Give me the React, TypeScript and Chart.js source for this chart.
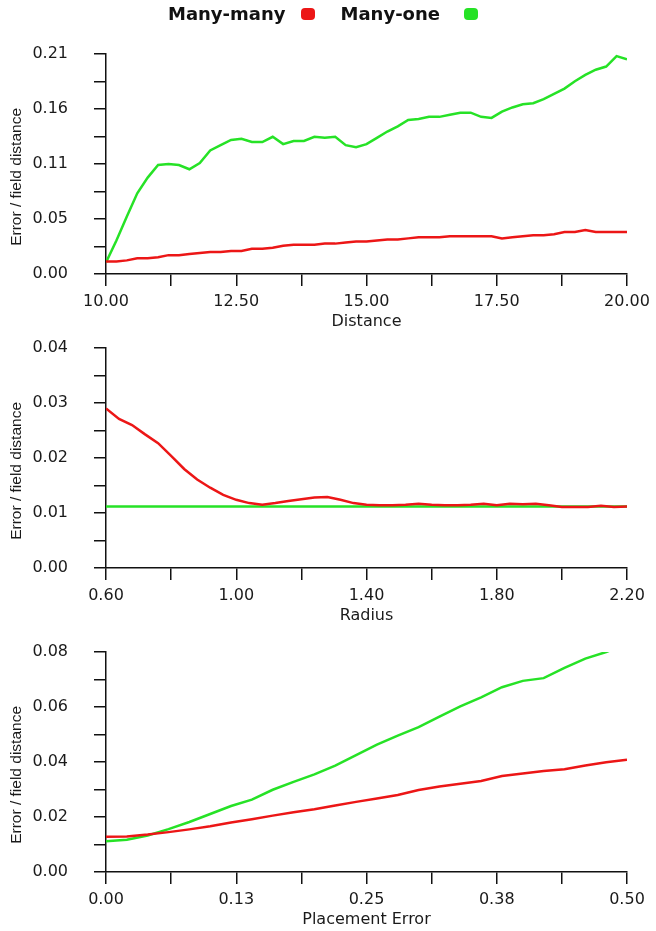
import React, { useEffect, useRef } from 'react';
import { Chart, registerables } from 'chart.js';

Chart.register(...registerables);

const RED = 'rgb(236, 22, 22)';
const GREEN = 'rgb(38, 226, 38)';
const SERIES_NAMES = ['Many-many', 'Many-one'];
const Y_TITLE = 'Error / field distance';

// ---- Panel 1: Distance ----
const distanceX = [10.0, 10.2, 10.4, 10.6, 10.8, 11.0, 11.2, 11.4, 11.6, 11.8, 12.0, 12.2, 12.4, 12.6, 12.8, 13.0, 13.2, 13.4, 13.6, 13.8, 14.0, 14.2, 14.4, 14.6, 14.8, 15.0, 15.2, 15.4, 15.6, 15.8, 16.0, 16.2, 16.4, 16.6, 16.8, 17.0, 17.2, 17.4, 17.6, 17.8, 18.0, 18.2, 18.4, 18.6, 18.8, 19.0, 19.2, 19.4, 19.6, 19.8, 20.0];
const distanceManyMany = [0.012, 0.012, 0.013, 0.015, 0.015, 0.016, 0.018, 0.018, 0.019, 0.020, 0.021, 0.021, 0.022, 0.022, 0.024, 0.024, 0.025, 0.027, 0.028, 0.028, 0.028, 0.029, 0.029, 0.030, 0.031, 0.031, 0.032, 0.033, 0.033, 0.034, 0.035, 0.035, 0.035, 0.036, 0.036, 0.036, 0.036, 0.036, 0.034, 0.035, 0.036, 0.037, 0.037, 0.038, 0.040, 0.040, 0.042, 0.040, 0.040, 0.040, 0.040];
const distanceManyOne = [0.011, 0.032, 0.055, 0.077, 0.092, 0.104, 0.105, 0.104, 0.100, 0.106, 0.118, 0.123, 0.128, 0.129, 0.126, 0.126, 0.131, 0.124, 0.127, 0.127, 0.131, 0.130, 0.131, 0.123, 0.121, 0.124, 0.130, 0.136, 0.141, 0.147, 0.148, 0.150, 0.150, 0.152, 0.154, 0.154, 0.150, 0.149, 0.155, 0.159, 0.162, 0.163, 0.167, 0.172, 0.177, 0.184, 0.190, 0.195, 0.198, 0.208, 0.205];
const distanceXTicks = [10, 11.25, 12.5, 13.75, 15, 16.25, 17.5, 18.75, 20];
const distanceXLabels = ['10.00', '', '12.50', '', '15.00', '', '17.50', '', '20.00'];
const distanceYTicks = [0, 0.02625, 0.0525, 0.07875, 0.105, 0.13125, 0.1575, 0.18375, 0.21];
const distanceYLabels = ['0.00', '', '0.05', '', '0.11', '', '0.16', '', '0.21'];

// ---- Panel 2: Radius ----
const radiusX = [0.60, 0.64, 0.68, 0.72, 0.76, 0.80, 0.84, 0.88, 0.92, 0.96, 1.00, 1.04, 1.08, 1.12, 1.16, 1.20, 1.24, 1.28, 1.32, 1.36, 1.40, 1.44, 1.48, 1.52, 1.56, 1.60, 1.64, 1.68, 1.72, 1.76, 1.80, 1.84, 1.88, 1.92, 1.96, 2.00, 2.04, 2.08, 2.12, 2.16, 2.20];
const radiusManyMany = [0.0290, 0.0271, 0.0260, 0.0243, 0.0227, 0.0204, 0.0180, 0.0161, 0.0146, 0.0133, 0.0124, 0.0118, 0.0115, 0.0118, 0.0122, 0.0125, 0.0128, 0.0129, 0.0124, 0.0118, 0.0115, 0.0114, 0.0114, 0.0115, 0.0117, 0.0115, 0.0114, 0.0114, 0.0115, 0.0117, 0.0114, 0.0117, 0.0116, 0.0117, 0.0114, 0.0111, 0.0111, 0.0111, 0.0113, 0.0111, 0.0112];
const radiusManyOne = [0.0112, 0.0112, 0.0112, 0.0112, 0.0112, 0.0112, 0.0112, 0.0112, 0.0112, 0.0112, 0.0112, 0.0112, 0.0112, 0.0112, 0.0112, 0.0112, 0.0112, 0.0112, 0.0112, 0.0112, 0.0112, 0.0112, 0.0112, 0.0112, 0.0112, 0.0112, 0.0112, 0.0112, 0.0112, 0.0112, 0.0112, 0.0112, 0.0112, 0.0112, 0.0112, 0.0112, 0.0112, 0.0112, 0.0112, 0.0112, 0.0112];
const radiusXTicks = [0.6, 0.8, 1.0, 1.2, 1.4, 1.6, 1.8, 2.0, 2.2];
const radiusXLabels = ['0.60', '', '1.00', '', '1.40', '', '1.80', '', '2.20'];
const radiusYTicks = [0, 0.005, 0.01, 0.015, 0.02, 0.025, 0.03, 0.035, 0.04];
const radiusYLabels = ['0.00', '', '0.01', '', '0.02', '', '0.03', '', '0.04'];

// ---- Panel 3: Placement Error ----
const placementX = [0.00, 0.02, 0.04, 0.06, 0.08, 0.10, 0.12, 0.14, 0.16, 0.18, 0.20, 0.22, 0.24, 0.26, 0.28, 0.30, 0.32, 0.34, 0.36, 0.38, 0.40, 0.42, 0.44, 0.46, 0.48, 0.50];
const placementManyMany = [0.0128, 0.0129, 0.0136, 0.0145, 0.0155, 0.0166, 0.0180, 0.0192, 0.0205, 0.0217, 0.0228, 0.0242, 0.0255, 0.0267, 0.0280, 0.0298, 0.0311, 0.0321, 0.0331, 0.0349, 0.0358, 0.0367, 0.0374, 0.0387, 0.0399, 0.0408];
const placementManyOne = [0.0112, 0.0117, 0.0133, 0.0156, 0.0182, 0.0211, 0.0240, 0.0263, 0.0299, 0.0328, 0.0355, 0.0387, 0.0425, 0.0463, 0.0496, 0.0527, 0.0565, 0.0602, 0.0635, 0.0672, 0.0695, 0.0705, 0.0742, 0.0776, 0.0800, 0.0830];
const placementXTicks = [0, 0.0625, 0.125, 0.1875, 0.25, 0.3125, 0.375, 0.4375, 0.5];
const placementXLabels = ['0.00', '', '0.13', '', '0.25', '', '0.38', '', '0.50'];
const placementYTicks = [0, 0.01, 0.02, 0.03, 0.04, 0.05, 0.06, 0.07, 0.08];
const placementYLabels = ['0.00', '', '0.02', '', '0.04', '', '0.06', '', '0.08'];

const CANVAS_W = 656;
const CANVAS_H = 340;

type PanelProps = {
  top: number;
  xs: number[];
  manyMany: number[];
  manyOne: number[];
  xTicks: number[];
  xLabels: string[];
  yTicks: number[];
  yLabels: string[];
  xTitle: string;
};

function Panel(props: PanelProps) {
  const ref = useRef<HTMLCanvasElement | null>(null);
  useEffect(() => {
    if (!ref.current) return;
    const p = props;
    const axisColor = '#111';
    const textColor = '#1a1a1a';
    const grid = {
      drawOnChartArea: false,
      drawTicks: true,
      tickLength: 12,
      color: axisColor,
      lineWidth: 1.5,
    };
    const border = { display: true, color: axisColor, width: 1.5 };
    const chart = new Chart(ref.current, {
      type: 'line',
      data: {
        datasets: [
          {
            label: SERIES_NAMES[0],
            data: p.xs.map((x, i) => ({ x, y: p.manyMany[i] })),
            borderColor: RED,
            backgroundColor: RED,
            borderWidth: 2.5,
            pointRadius: 0,
            tension: 0,
          },
          {
            label: SERIES_NAMES[1],
            data: p.xs.map((x, i) => ({ x, y: p.manyOne[i] })),
            borderColor: GREEN,
            backgroundColor: GREEN,
            borderWidth: 2.5,
            pointRadius: 0,
            tension: 0,
          },
        ],
      },
      options: {
        responsive: false,
        animation: false,
        events: [],
        layout: { padding: { top: 54, right: 29, left: 0, bottom: 0 } },
        plugins: { legend: { display: false }, tooltip: { enabled: false } },
        scales: {
          x: {
            type: 'linear',
            min: p.xTicks[0],
            max: p.xTicks[p.xTicks.length - 1],
            afterBuildTicks: (s: any) => {
              s.ticks = p.xTicks.map((value) => ({ value }));
            },
            afterFit: (s: any) => {
              s.height = 66;
            },
            ticks: {
              autoSkip: false,
              maxRotation: 0,
              padding: 6,
              color: textColor,
              font: { family: 'DejaVu Sans', size: 16 },
              callback: (_v: any, i: number) => p.xLabels[i],
            },
            grid,
            border,
            title: {
              display: true,
              text: p.xTitle,
              color: textColor,
              font: { family: 'DejaVu Sans', size: 16 },
              padding: { top: 0, bottom: 9 },
            },
          },
          y: {
            type: 'linear',
            min: p.yTicks[0],
            max: p.yTicks[p.yTicks.length - 1],
            afterBuildTicks: (s: any) => {
              s.ticks = p.yTicks.map((value) => ({ value }));
            },
            afterFit: (s: any) => {
              s.width = 106;
            },
            ticks: {
              autoSkip: false,
              padding: 26,
              color: textColor,
              font: { family: 'DejaVu Sans', size: 16 },
              callback: (_v: any, i: number) => p.yLabels[i],
            },
            grid,
            border,
            title: {
              display: true,
              text: Y_TITLE + '      ',
              color: textColor,
              font: { family: 'Liberation Sans', size: 15.5 },
              padding: { top: 7, bottom: 0 },
            },
          },
        },
      },
    } as any);
    return () => chart.destroy();
  }, []);
  return (
    <canvas
      ref={ref}
      width={CANVAS_W}
      height={CANVAS_H}
      style={{ position: 'absolute', left: 0, top: props.top, width: CANVAS_W, height: CANVAS_H }}
    />
  );
}

function Legend() {
  const textStyle: React.CSSProperties = {
    fontFamily: 'DejaVu Sans',
    fontWeight: 'bold',
    fontSize: 18,
    color: '#111',
    lineHeight: '20px',
    whiteSpace: 'nowrap',
  };
  const dot = (c: string, ml: number): React.CSSProperties => ({
    display: 'inline-block',
    width: 14,
    height: 12,
    borderRadius: 4,
    background: c,
    marginLeft: ml,
  });
  return (
    <div
      style={{
        position: 'absolute',
        left: 168,
        top: 3,
        height: 21,
        display: 'flex',
        alignItems: 'center',
      }}
    >
      <span style={textStyle}>{SERIES_NAMES[0]}</span>
      <span style={dot(RED, 15)} />
      <span style={{ ...textStyle, marginLeft: 26 }}>{SERIES_NAMES[1]}</span>
      <span style={dot(GREEN, 24)} />
    </div>
  );
}

export default function App() {
  return (
    <div
      style={{
        position: 'absolute',
        left: 0,
        top: 0,
        width: 656,
        height: 931,
        overflow: 'hidden',
        background: '#fff',
      }}
    >
      <Panel
        top={0}
        xs={distanceX}
        manyMany={distanceManyMany}
        manyOne={distanceManyOne}
        xTicks={distanceXTicks}
        xLabels={distanceXLabels}
        yTicks={distanceYTicks}
        yLabels={distanceYLabels}
        xTitle="Distance"
      />
      <Panel
        top={294}
        xs={radiusX}
        manyMany={radiusManyMany}
        manyOne={radiusManyOne}
        xTicks={radiusXTicks}
        xLabels={radiusXLabels}
        yTicks={radiusYTicks}
        yLabels={radiusYLabels}
        xTitle="Radius"
      />
      <Panel
        top={598}
        xs={placementX}
        manyMany={placementManyMany}
        manyOne={placementManyOne}
        xTicks={placementXTicks}
        xLabels={placementXLabels}
        yTicks={placementYTicks}
        yLabels={placementYLabels}
        xTitle="Placement Error"
      />
      <Legend />
    </div>
  );
}
